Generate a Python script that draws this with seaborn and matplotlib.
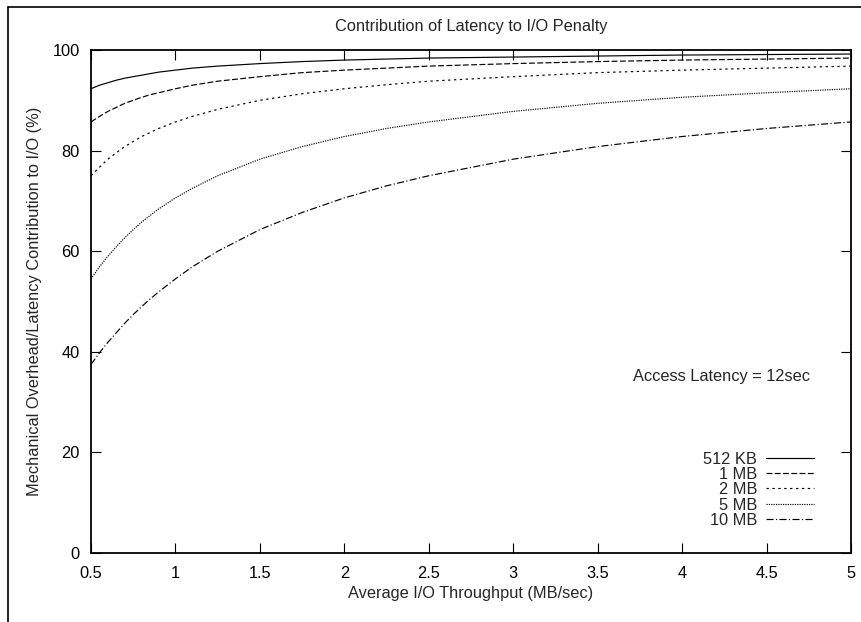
import pandas as pd
import seaborn as sns
import matplotlib
matplotlib.use("Agg")
import matplotlib.pyplot as plt
from matplotlib.lines import Line2D

# values
throughput = [0.5, 0.55, 0.6, 0.65, 0.7, 0.75, 0.8, 0.85, 0.9, 1.0, 1.1, 1.25,
              1.5, 1.75, 2.0, 2.25, 2.5, 3.0, 3.5, 4.0, 4.5, 5.0]
kb512 = [92.3, 93.0, 93.5, 94.0, 94.4, 94.7, 95.0, 95.3, 95.6, 96.0, 96.4, 96.8,
         97.3, 97.7, 98.0, 98.2, 98.4, 98.6, 98.8, 99.0, 99.1, 99.2]
mb1 = [85.7, 86.8, 87.8, 88.6, 89.4, 90.0, 90.6, 91.1, 91.5, 92.3, 93.0, 93.8,
       94.7, 95.5, 96.0, 96.4, 96.8, 97.3, 97.7, 98.0, 98.2, 98.4]
mb2 = [75.0, 76.7, 78.3, 79.6, 80.8, 81.8, 82.8, 83.6, 84.4, 85.7, 86.8, 88.2,
       90.0, 91.3, 92.3, 93.1, 93.8, 94.7, 95.5, 96.0, 96.4, 96.8]
mb5 = [54.5, 56.9, 59.0, 60.9, 62.7, 64.3, 65.8, 67.1, 68.4, 70.6, 72.5, 75.0,
       78.3, 80.8, 82.8, 84.4, 85.7, 87.8, 89.4, 90.6, 91.5, 92.3]
mb10 = [37.5, 39.8, 41.9, 43.8, 45.7, 47.4, 49.0, 50.5, 51.9, 54.5, 56.9, 60.0,
        64.3, 67.7, 70.6, 73.0, 75.0, 78.3, 80.8, 82.8, 84.4, 85.7]
labels = ["512 KB", "1 MB", "2 MB", "5 MB", "10 MB"]
series = [kb512, mb1, mb2, mb5, mb10]

rows = []
for lab, vals in zip(labels, series):
    for x, y in zip(throughput, vals):
        rows.append({"tp": x, "pct": y, "size": lab})
df = pd.DataFrame(rows)

sns.set_style("ticks")
plt.rcParams["font.family"] = ["Liberation Sans", "DejaVu Sans"]
fs = 11.8
plt.rcParams["font.size"] = fs

fig = plt.figure(figsize=(8.62, 6.22), dpi=100)
ax = fig.add_axes([0.1056, 0.1109, 0.8816, 0.8087])

dash_map = {"512 KB": "", "1 MB": (5, 2), "2 MB": (2, 3), "5 MB": (1, 1), "10 MB": (6, 2, 1, 2)}
sns.lineplot(data=df, x="tp", y="pct", hue="size", style="size",
             palette=["black"] * 5, dashes=dash_map, linewidth=0.85,
             hue_order=labels, style_order=labels, ax=ax)

ax.set_xlim(0.5, 5)
ax.set_ylim(0, 100)
ax.set_xticks([0.5, 1, 1.5, 2, 2.5, 3, 3.5, 4, 4.5, 5])
ax.set_xticklabels(["0.5", "1", "1.5", "2", "2.5", "3", "3.5", "4", "4.5", "5"])
ax.set_yticks([0, 20, 40, 60, 80, 100])
ax.tick_params(direction="in", length=7, width=0.8, top=True, right=True,
               labelsize=fs, colors="black")
ax.tick_params(axis="x", pad=9)
ax.tick_params(axis="y", pad=8)
for sp in ax.spines.values():
    sp.set_linewidth(1.3)
    sp.set_color("black")

ax.set_title("Contribution of Latency to I/O Penalty", fontsize=fs, pad=14)
ax.set_xlabel("Average I/O Throughput (MB/sec)", fontsize=fs, labelpad=4)
ax.set_ylabel("Mechanical Overhead/Latency Contribution to I/O (%)", fontsize=fs, labelpad=8)

ax.text(4.76, 35, "Access Latency = 12sec", ha="right", va="center", fontsize=fs)

ax.legend(loc="lower right", bbox_to_anchor=(0.951, 0.05), markerfirst=False,
          frameon=False, borderpad=0, borderaxespad=0, handlelength=2.9,
          handletextpad=0.55, labelspacing=0.02, fontsize=fs)

# partial frame around the image
fig.add_artist(Line2D([0.0093, 1.0], [0.9887, 0.9887], color="black", lw=1.2))
fig.add_artist(Line2D([0.0093, 0.0093], [0.0, 0.9887], color="black", lw=1.2))

fig.savefig("out.png", dpi=100)
